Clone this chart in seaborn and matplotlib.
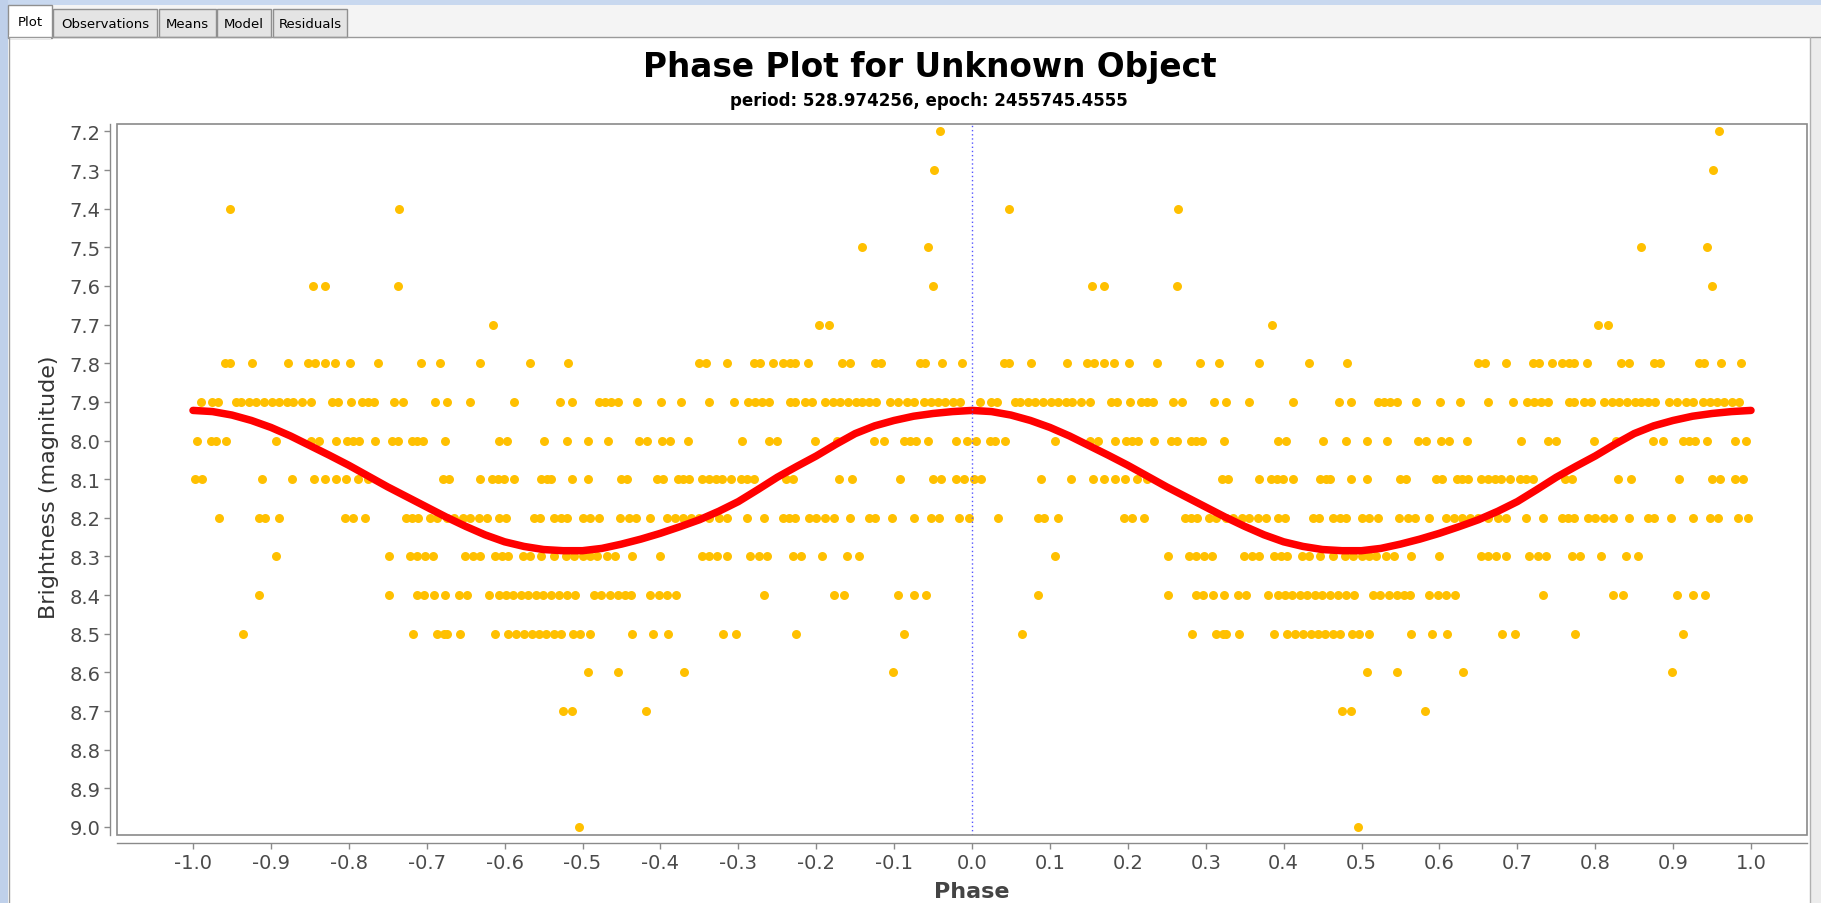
import numpy as np
import pandas as pd
import matplotlib
matplotlib.use("Agg")
import matplotlib.pyplot as plt
import seaborn as sns
from matplotlib.patches import Rectangle
from matplotlib.ticker import FixedLocator, FuncFormatter

# ---------------------------------------------------------------------------
# Observations: phase (0..1) of each estimate, grouped by reported magnitude
# ---------------------------------------------------------------------------
mag_7_2 = [0.959]
mag_7_3 = [0.951]
mag_7_4 = [0.048, 0.265]
mag_7_5 = [0.859, 0.944]
mag_7_6 = [0.154, 0.169, 0.263, 0.950]
mag_7_7 = [0.385, 0.803, 0.816]
mag_7_8 = [0.041, 0.047, 0.076, 0.122, 0.148, 0.156, 0.169, 0.182, 0.201, 0.238,
           0.293, 0.317, 0.368, 0.433, 0.482, 0.649, 0.658, 0.686, 0.720, 0.728,
           0.745, 0.758, 0.766, 0.773, 0.790, 0.833, 0.844, 0.876, 0.883, 0.933,
           0.940, 0.962, 0.987]
mag_7_9 = [0.010, 0.024, 0.032, 0.055, 0.062, 0.072, 0.081, 0.091, 0.101, 0.111,
           0.121, 0.129, 0.140, 0.152, 0.179, 0.186, 0.203, 0.217, 0.225, 0.232,
           0.258, 0.269, 0.311, 0.326, 0.355, 0.412, 0.471, 0.487, 0.521, 0.529,
           0.537, 0.545, 0.570, 0.601, 0.626, 0.663, 0.694, 0.713, 0.721, 0.730,
           0.740, 0.766, 0.773, 0.785, 0.794, 0.811, 0.821, 0.831, 0.841, 0.851,
           0.859, 0.868, 0.877, 0.895, 0.905, 0.916, 0.925, 0.938, 0.947, 0.956,
           0.965, 0.975, 0.985]
mag_8_0 = [0.005, 0.023, 0.030, 0.043, 0.106, 0.151, 0.162, 0.183, 0.198, 0.206,
           0.213, 0.234, 0.255, 0.263, 0.281, 0.288, 0.295, 0.324, 0.393, 0.403,
           0.451, 0.480, 0.507, 0.533, 0.572, 0.583, 0.602, 0.612, 0.636, 0.705,
           0.740, 0.750, 0.799, 0.827, 0.874, 0.887, 0.913, 0.921, 0.928, 0.944,
           0.980, 0.994]
mag_8_1 = [0.003, 0.012, 0.089, 0.127, 0.155, 0.169, 0.184, 0.197, 0.212, 0.225,
           0.321, 0.328, 0.369, 0.384, 0.392, 0.399, 0.412, 0.447, 0.454, 0.460,
           0.487, 0.507, 0.549, 0.557, 0.595, 0.603, 0.622, 0.629, 0.637, 0.654,
           0.662, 0.671, 0.679, 0.690, 0.703, 0.711, 0.720, 0.761, 0.770, 0.829,
           0.846, 0.907, 0.950, 0.960, 0.980, 0.990]
mag_8_2 = [0.033, 0.085, 0.093, 0.111, 0.195, 0.206, 0.221, 0.274, 0.281, 0.289,
           0.304, 0.313, 0.326, 0.335, 0.346, 0.356, 0.367, 0.378, 0.393, 0.402,
           0.438, 0.445, 0.463, 0.472, 0.480, 0.500, 0.510, 0.521, 0.548, 0.560,
           0.569, 0.587, 0.609, 0.619, 0.629, 0.639, 0.649, 0.662, 0.675, 0.686,
           0.711, 0.733, 0.757, 0.765, 0.773, 0.791, 0.800, 0.811, 0.823, 0.844,
           0.868, 0.876, 0.897, 0.925, 0.947, 0.958, 0.983, 0.996]
mag_8_3 = [0.107, 0.251, 0.278, 0.288, 0.298, 0.308, 0.349, 0.359, 0.369, 0.388,
           0.397, 0.405, 0.423, 0.433, 0.447, 0.464, 0.479, 0.489, 0.500, 0.509,
           0.518, 0.531, 0.542, 0.564, 0.600, 0.653, 0.662, 0.673, 0.685, 0.715,
           0.726, 0.737, 0.770, 0.781, 0.807, 0.839, 0.855]
mag_8_4 = [0.085, 0.251, 0.288, 0.296, 0.310, 0.323, 0.341, 0.352, 0.380, 0.393,
           0.402, 0.411, 0.421, 0.430, 0.440, 0.449, 0.459, 0.470, 0.480, 0.491,
           0.515, 0.524, 0.535, 0.545, 0.554, 0.562, 0.587, 0.598, 0.609, 0.620,
           0.733, 0.823, 0.836, 0.905, 0.925, 0.941]
mag_8_5 = [0.064, 0.283, 0.313, 0.322, 0.326, 0.343, 0.388, 0.405, 0.415, 0.425,
           0.435, 0.444, 0.453, 0.463, 0.472, 0.488, 0.497, 0.509, 0.564, 0.590,
           0.610, 0.681, 0.697, 0.774, 0.913]
mag_8_6 = [0.507, 0.545, 0.630, 0.898]
mag_8_7 = [0.475, 0.487, 0.581]
mag_9_0 = [0.496]

magnitude_rows = [
    (7.2, mag_7_2), (7.3, mag_7_3), (7.4, mag_7_4), (7.5, mag_7_5),
    (7.6, mag_7_6), (7.7, mag_7_7), (7.8, mag_7_8), (7.9, mag_7_9),
    (8.0, mag_8_0), (8.1, mag_8_1), (8.2, mag_8_2), (8.3, mag_8_3),
    (8.4, mag_8_4), (8.5, mag_8_5), (8.6, mag_8_6), (8.7, mag_8_7),
    (9.0, mag_9_0),
]

# Fitted light-curve model, sampled over one cycle
model_phase = [0.000, 0.025, 0.050, 0.075, 0.100, 0.125, 0.150, 0.175, 0.200,
               0.225, 0.250, 0.275, 0.300, 0.325, 0.350, 0.375, 0.400, 0.425,
               0.450, 0.475, 0.500, 0.525, 0.550, 0.575, 0.600, 0.625, 0.650,
               0.675, 0.700, 0.725, 0.750, 0.775, 0.800, 0.825, 0.850, 0.875,
               0.900, 0.925, 0.950, 0.975, 1.000]
model_mag = [7.922, 7.925, 7.934, 7.948, 7.966, 7.988, 8.013, 8.038, 8.064,
             8.092, 8.120, 8.146, 8.172, 8.198, 8.222, 8.244, 8.262, 8.274,
             8.282, 8.285, 8.285, 8.279, 8.268, 8.255, 8.240, 8.223, 8.205,
             8.183, 8.158, 8.127, 8.095, 8.067, 8.040, 8.010, 7.982, 7.962,
             7.948, 7.937, 7.930, 7.925, 7.922]

x_ticks = [-1.0, -0.9, -0.8, -0.7, -0.6, -0.5, -0.4, -0.3, -0.2, -0.1, 0.0,
           0.1, 0.2, 0.3, 0.4, 0.5, 0.6, 0.7, 0.8, 0.9, 1.0]
y_ticks = [7.2, 7.3, 7.4, 7.5, 7.6, 7.7, 7.8, 7.9, 8.0, 8.1, 8.2, 8.3, 8.4, 8.5,
           8.6, 8.7, 8.8, 8.9, 9.0]

tab_names = ["Plot", "Observations", "Means", "Model", "Residuals"]
title = "Phase Plot for Unknown Object"
subtitle = "period: 528.974256, epoch: 2455745.4555"

# ---------------------------------------------------------------------------
# Build tables: every estimate is shown at phase p and again at p - 1
# ---------------------------------------------------------------------------
rows = []
for mag, phases in magnitude_rows:
    for p in phases:
        rows.append({"phase": p, "mag": mag})
        rows.append({"phase": p - 1.0, "mag": mag})
obs = pd.DataFrame(rows)

mp = np.asarray(model_phase)
mm = np.asarray(model_mag)
model = pd.DataFrame({"phase": np.concatenate([mp - 1.0, mp[1:]]),
                      "mag": np.concatenate([mm, mm[1:]])})

# ---------------------------------------------------------------------------
# Figure
# ---------------------------------------------------------------------------
sns.set_theme(style="white")
plt.rcParams["font.family"] = ["DejaVu Sans"]
plt.rcParams["axes.unicode_minus"] = False

W, H = 1821, 904
fig = plt.figure(figsize=(W / 100, H / 100), dpi=100)
fig.patch.set_facecolor("white")

# Window chrome drawn in pixel coordinates
bg = fig.add_axes([0, 0, 1, 1])
bg.set_xlim(0, W)
bg.set_ylim(H, 0)
bg.axis("off")
bg.add_patch(Rectangle((0, 0), W, 6, color="#c8d8ef", lw=0))
bg.add_patch(Rectangle((0, 0), 8, H, color="#bfd0ea", lw=0))
bg.add_patch(Rectangle((8, 6), W - 8, 32, color="#f4f4f4", lw=0))
bg.plot([8, W], [38, 38], color="#9a9a9a", lw=1)
bg.plot([9, 9], [38, H], color="#9a9a9a", lw=1)
# right-hand frame strip
bg.add_patch(Rectangle((1810, 38), W - 1810, H - 38, color="#ececec", lw=0))
bg.plot([1810, 1810], [38, H], color="#b0b0b0", lw=1)

tab_spans = [(8, 52), (53, 157), (159, 216), (217, 271), (273, 347)]
for i, (name, (x0, x1)) in enumerate(zip(tab_names, tab_spans)):
    if i == 0:
        bg.add_patch(Rectangle((x0, 6), x1 - x0, 33, facecolor="white",
                               edgecolor="#8f8f8f", lw=1))
        bg.add_patch(Rectangle((x0 + 1, 36), x1 - x0 - 2, 4, color="white", lw=0))
        bg.text((x0 + x1) / 2, 23, name, ha="center", va="center",
                fontsize=9.5, color="black")
    else:
        bg.add_patch(Rectangle((x0, 10), x1 - x0, 28, facecolor="#e4e4e4",
                               edgecolor="#8f8f8f", lw=1))
        bg.text((x0 + x1) / 2, 25, name, ha="center", va="center",
                fontsize=9.5, color="black")

bg.text(930, 67, title, ha="center", va="center", fontsize=23.6,
        fontweight="bold", color="black")
bg.text(929, 101, subtitle, ha="center", va="center", fontsize=12,
        fontweight="bold", color="black")
bg.text(49, 487, "Brightness (magnitude)", ha="center", va="center",
        rotation=90, fontsize=16, color="#333333")
bg.text(972, 892, "Phase", ha="center", va="center", fontsize=16,
        fontweight="bold", color="#444444")

# Plot area
L, R, T, B = 117, 1807, 125, 836
ax = fig.add_axes([L / W, 1 - B / H, (R - L) / W, (B - T) / H])
ax.set_facecolor("white")
px_per_phase = 779.0
px_per_mag = 386.4
ax.set_xlim(-1.0 + (L - 193) / px_per_phase, -1.0 + (R - 193) / px_per_phase)
ax.set_ylim(9.0 + (B - 828) / px_per_mag, 7.2 - (132.4 - T) / px_per_mag)

sns.scatterplot(data=obs, x="phase", y="mag", ax=ax, color="#ffc000",
                s=42, linewidth=0, zorder=3, legend=False)
sns.lineplot(data=model, x="phase", y="mag", ax=ax, color="#ff0000",
             lw=5.4, sort=False, estimator=None, zorder=4, legend=False)
for line in ax.lines:
    line.set_solid_capstyle("round")
    line.set_solid_joinstyle("round")
ax.axvline(0.0, color="#5555ff", lw=1.0, ls=(0, (1, 2)), zorder=5)

ax.set_xlabel("")
ax.set_ylabel("")
ax.xaxis.set_major_locator(FixedLocator(x_ticks))
ax.yaxis.set_major_locator(FixedLocator(y_ticks))
ax.xaxis.set_major_formatter(FuncFormatter(lambda v, _: f"{v + 0.0:.1f}"))
ax.yaxis.set_major_formatter(FuncFormatter(lambda v, _: f"{v + 0.0:.1f}"))
ax.tick_params(axis="both", which="major", direction="out", length=4,
               width=1, color="#8a8a8a", labelcolor="#4a4a4a", labelsize=14,
               pad=3, left=True, bottom=True)

for side in ("top", "right"):
    ax.spines[side].set_visible(False)
for side in ("left", "bottom"):
    ax.spines[side].set_visible(True)
    ax.spines[side].set_color("#8a8a8a")
    ax.spines[side].set_linewidth(1.0)
ax.spines["left"].set_position(("outward", 5))
ax.spines["bottom"].set_position(("outward", 6))
ax.add_patch(Rectangle((0, 0), 1, 1, transform=ax.transAxes, fill=False,
                       edgecolor="#8a8a8a", lw=1.2, clip_on=False, zorder=6))

fig.savefig("out.png", dpi=100)
